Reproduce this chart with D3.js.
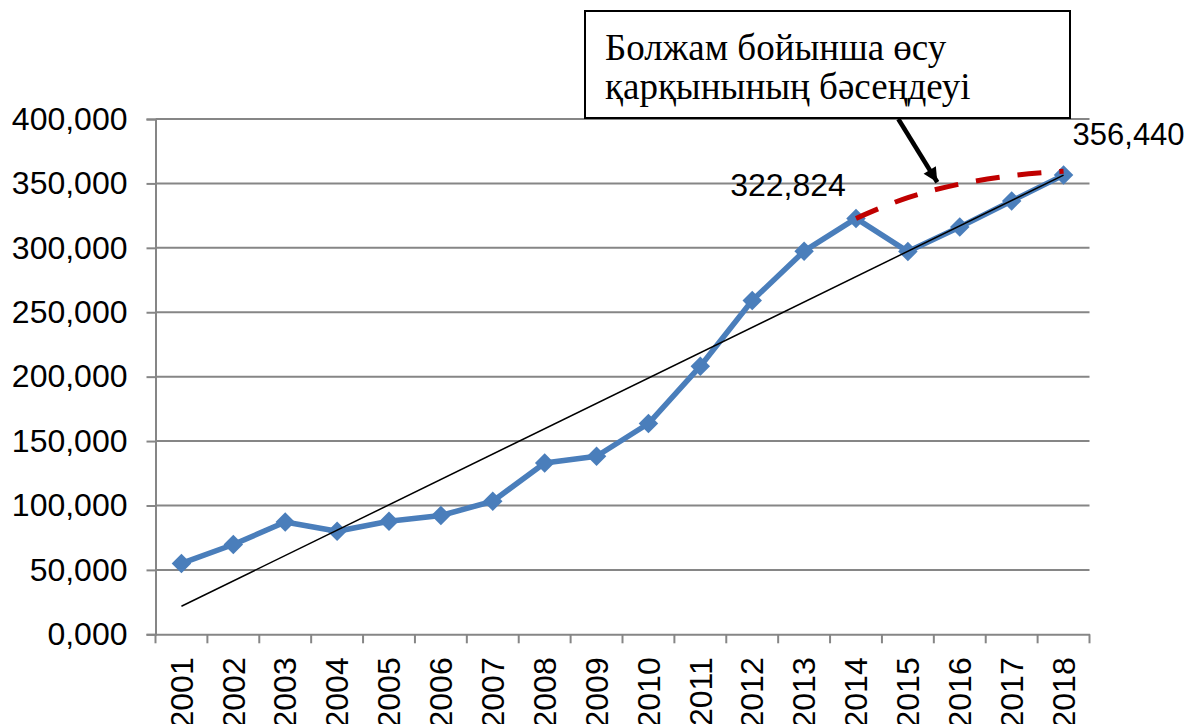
<!DOCTYPE html>
<html>
<head>
<meta charset="utf-8">
<script src="https://cdn.jsdelivr.net/npm/d3@7"></script>
<style>
  html, body { margin: 0; padding: 0; background: #fff; }
  svg { display: block; }
</style>
</head>
<body>
<svg id="chart" width="1191" height="724"></svg>
<script>
// ---- data (values in thousands; shown with comma decimal) ----
const years = ["2001","2002","2003","2004","2005","2006","2007","2008","2009","2010","2011","2012","2013","2014","2015","2016","2017","2018"];
const values = [55.0, 69.7, 87.2, 80.0, 87.7, 92.2, 103.3, 133.0, 138.2, 163.6, 208.1, 259.1, 297.4, 322.824, 297.1, 316.2, 336.4, 356.44];
const forecastYears = ["2014","2015","2016","2017","2018"];
const forecastValues = [322.824, 339.0, 349.5, 356.0, 359.5];
const yTicks = [0, 50, 100, 150, 200, 250, 300, 350, 400];
const labelYears = ["2014", "2018"];
const annotationLines = ["Болжам бойынша өсу", "қарқынының бәсеңдеуі"];

(function () {
// ---- layout ----
const svg = d3.select("#chart");
const pLeft = 155.5, pRight = 1089.5, pTop = 119, pBottom = 634.3;
const gridColor = "#868686";
const blue = "#4a7ebb";
const red = "#c00000";
const sansFont = "'Liberation Sans', Arial, sans-serif";
const fs = 32;

const x = d3.scaleBand().domain(years).range([pLeft, pRight]).padding(0);
const y = d3.scaleLinear().domain([0, 400]).range([pBottom, pTop]);
const cx = d => x(d) + x.bandwidth() / 2;

const fmt = d3.formatLocale({ decimal: ",", thousands: " ", grouping: [3], currency: ["", ""] }).format(".3f");

// gridlines
svg.append("g").selectAll("line").data(yTicks.filter(t => t > 0)).join("line")
  .attr("x1", pLeft).attr("x2", pRight)
  .attr("y1", d => y(d)).attr("y2", d => y(d))
  .attr("stroke", gridColor).attr("stroke-width", 2);

// y axis
const yAxis = svg.append("g").attr("transform", `translate(${pLeft},0)`)
  .call(d3.axisLeft(y).tickValues(yTicks).tickSize(9).tickPadding(19).tickFormat(fmt));
yAxis.select(".domain").attr("stroke", gridColor).attr("stroke-width", 2);
yAxis.selectAll(".tick line").attr("stroke", gridColor).attr("stroke-width", 2);
yAxis.selectAll(".tick text").attr("font-family", sansFont).attr("font-size", fs).attr("fill", "#000");

// x axis
const xAxis = svg.append("g").attr("transform", `translate(0,${pBottom})`)
  .call(d3.axisBottom(x).tickSize(0).tickFormat(d => d));
xAxis.select(".domain").attr("stroke", gridColor).attr("stroke-width", 2);
xAxis.selectAll(".tick text")
  .attr("font-family", sansFont).attr("font-size", fs).attr("fill", "#000")
  .attr("transform", "rotate(-90)")
  .attr("text-anchor", "end")
  .attr("x", -23).attr("y", 0).attr("dy", "0.35em");
// boundary ticks
const bounds = years.map(d => x(d)).concat([pRight]);
svg.append("g").selectAll("line").data(bounds).join("line")
  .attr("x1", d => d).attr("x2", d => d)
  .attr("y1", pBottom).attr("y2", pBottom + 9)
  .attr("stroke", gridColor).attr("stroke-width", 2);

// data line
const data = years.map((yr, i) => ({ yr, v: values[i] }));
svg.append("path").datum(data)
  .attr("fill", "none").attr("stroke", blue).attr("stroke-width", 5.5).attr("stroke-linejoin", "round")
  .attr("d", d3.line().x(d => cx(d.yr)).y(d => y(d.v)));

// markers
svg.append("g").selectAll("path").data(data).join("path")
  .attr("d", d3.symbol().type(d3.symbolSquare).size(190))
  .attr("transform", d => `translate(${cx(d.yr)},${y(d.v)}) rotate(45)`)
  .attr("fill", blue);

// linear trend (least squares)
const idx = values.map((_, i) => i + 1);
const mx = d3.mean(idx), my = d3.mean(values);
const slope = d3.sum(idx, (xi, i) => (xi - mx) * (values[i] - my)) / d3.sum(idx, xi => (xi - mx) ** 2);
const icpt = my - slope * mx;
const trend = [0, years.length - 1].map(i => ({ yr: years[i], v: icpt + slope * (i + 1) }));
svg.append("path").datum(trend)
  .attr("fill", "none").attr("stroke", "#000").attr("stroke-width", 1.5)
  .attr("d", d3.line().x(d => cx(d.yr)).y(d => y(d.v)));

// forecast dashed curve
const fdata = forecastYears.map((yr, i) => ({ yr, v: forecastValues[i] }));
svg.append("path").datum(fdata)
  .attr("fill", "none").attr("stroke", red).attr("stroke-width", 5)
  .attr("stroke-dasharray", "24,18")
  .attr("d", d3.line().curve(d3.curveMonotoneX).x(d => cx(d.yr)).y(d => y(d.v)));

// data labels
const labelOffsets = { "2014": [-68, -22, "middle"], "2018": [9, -30, "start"] };
svg.append("g").selectAll("text").data(labelYears).join("text")
  .attr("x", d => cx(d) + labelOffsets[d][0])
  .attr("y", d => y(values[years.indexOf(d)]) + labelOffsets[d][1])
  .attr("text-anchor", d => labelOffsets[d][2])
  .attr("font-family", sansFont).attr("font-size", d => d === "2018" ? 31 : fs).attr("fill", "#000")
  .text(d => fmt(values[years.indexOf(d)]));

// annotation box
svg.append("rect").attr("x", 585).attr("y", 11).attr("width", 485).attr("height", 107)
  .attr("fill", "#fff").attr("stroke", "#000").attr("stroke-width", 2);
svg.append("g").selectAll("text").data(annotationLines).join("text")
  .attr("x", 605).attr("y", (d, i) => 60 + i * 39)
  .attr("font-family", "'Liberation Serif', 'Times New Roman', serif").attr("font-size", 37).attr("fill", "#000")
  .text(d => d);

// arrow
const defs = svg.append("defs");
defs.append("marker").attr("id", "ah").attr("viewBox", "0 0 10 10")
  .attr("refX", 10).attr("refY", 5).attr("markerWidth", 4).attr("markerHeight", 3.2)
  .attr("markerUnits", "strokeWidth").attr("orient", "auto")
  .append("path").attr("d", "M0,0 L10,5 L0,10 Z").attr("fill", "#000");
svg.append("line").attr("x1", 898.3).attr("y1", 119).attr("x2", 937.3).attr("y2", 182.3)
  .attr("stroke", "#000").attr("stroke-width", 4.5).attr("marker-end", "url(#ah)");
})();
</script>
</body>
</html>
